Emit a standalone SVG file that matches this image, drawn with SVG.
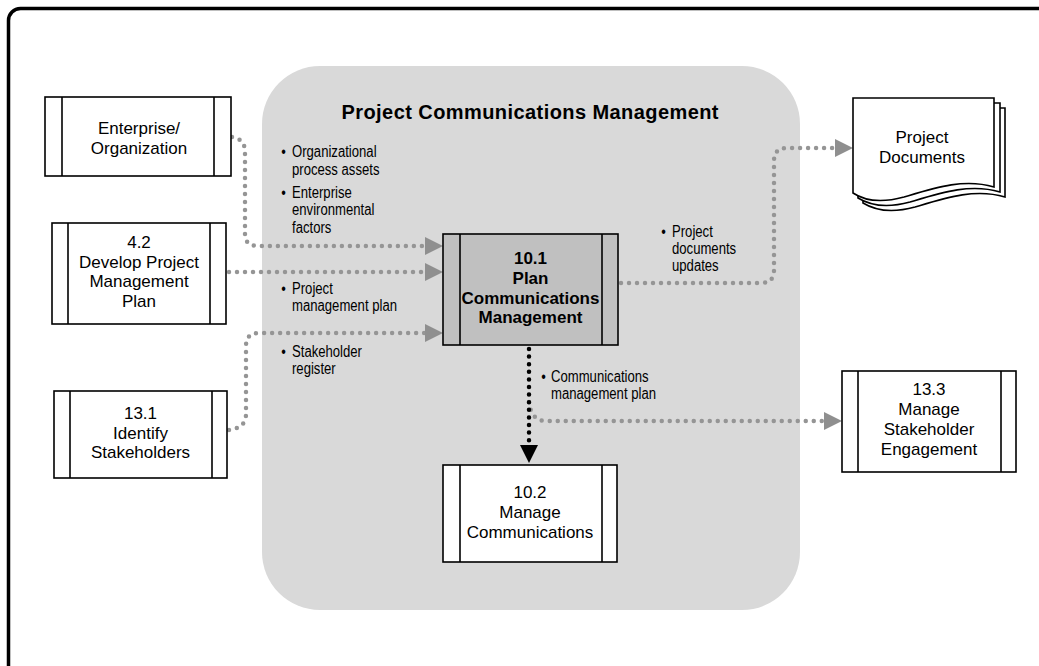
<svg xmlns="http://www.w3.org/2000/svg" width="1039" height="666" viewBox="0 0 1039 666">
<defs>
<style>
.frame{fill:none;stroke:#000;stroke-width:3.5}
.region{fill:#d9d9d9}
.box{fill:#fff;stroke:#000;stroke-width:1.6}
.boxg{fill:#c0c0c0;stroke:#000;stroke-width:1.6}
.bar{stroke:#000;stroke-width:1.6}
.ntxt{font-family:"Liberation Sans",Arial,sans-serif;font-size:17px;fill:#000;text-anchor:middle}
.btxt{font-family:"Liberation Sans",Arial,sans-serif;font-size:17px;font-weight:bold;fill:#000;text-anchor:middle}
.title{font-family:"Liberation Sans",Arial,sans-serif;font-size:20px;font-weight:bold;fill:#000;text-anchor:middle}
.lbl{font-family:"Liberation Sans",Arial,sans-serif;font-size:16px;fill:#000}
.dots{fill:none;stroke:#959595;stroke-width:4.5;stroke-linecap:round;stroke-dasharray:0 8}
.bdots{fill:none;stroke:#000;stroke-width:4.5;stroke-linecap:round;stroke-dasharray:0 7.6}
</style>
<marker id="ag" viewBox="0 0 18 18" refX="0" refY="9" markerWidth="18" markerHeight="18" markerUnits="userSpaceOnUse" orient="auto">
<path d="M0,0 L18,9 L0,18 Z" fill="#8f8f8f"/>
</marker>
<marker id="ab" viewBox="0 0 18 18" refX="0" refY="9" markerWidth="18" markerHeight="18" markerUnits="userSpaceOnUse" orient="auto">
<path d="M0,0 L18,9 L0,18 Z" fill="#000"/>
</marker>
</defs>
<rect width="1039" height="666" fill="#fff"/>
<rect class="frame" x="8.5" y="8.5" width="1080" height="720" rx="12"/>
<g id="region">
<rect class="region" x="262" y="66" width="538" height="544" rx="58"/>
<text class="title" x="530" y="119" textLength="377" lengthAdjust="spacing">Project Communications Management</text>
</g>
<g id="connectors">
<path class="dots" d="M232,137 Q245,139 245,152 L245,234 Q245,246 258,246 L425,246" marker-end="url(#ag)"/>
<path class="dots" d="M229,272 L425,272" marker-end="url(#ag)"/>
<path class="dots" d="M229,430 Q246,428 246,414 L246,346 Q246,333 259,333 L425,333" marker-end="url(#ag)"/>
<path class="dots" d="M621,283 L761,283 Q774,283 774,270 L774,161 Q774,148 787,148 L835,148" marker-end="url(#ag)"/>
<path class="dots" d="M529,402 Q531,420 545,421 L824,421" marker-end="url(#ag)"/>
<path class="bdots" d="M529,349 L529,445" marker-end="url(#ab)"/>
</g>
<g id="labels">
<text class="lbl" transform="translate(292,0) scale(0.82,1)"><tspan x="-13" y="157">•</tspan><tspan x="0" y="157">Organizational</tspan><tspan x="0" y="175">process assets</tspan></text>
<text class="lbl" transform="translate(292,0) scale(0.82,1)"><tspan x="-13" y="198">•</tspan><tspan x="0" y="198">Enterprise</tspan><tspan x="0" y="215.5">environmental</tspan><tspan x="0" y="233">factors</tspan></text>
<text class="lbl" transform="translate(292,0) scale(0.82,1)"><tspan x="-13" y="294">•</tspan><tspan x="0" y="294">Project</tspan><tspan x="0" y="311">management plan</tspan></text>
<text class="lbl" transform="translate(292,0) scale(0.82,1)"><tspan x="-13" y="357">•</tspan><tspan x="0" y="357">Stakeholder</tspan><tspan x="0" y="374">register</tspan></text>
<text class="lbl" transform="translate(672,0) scale(0.82,1)"><tspan x="-13" y="237">•</tspan><tspan x="0" y="237">Project</tspan><tspan x="0" y="254">documents</tspan><tspan x="0" y="271">updates</tspan></text>
<text class="lbl" transform="translate(551,0) scale(0.82,1)"><tspan x="-12" y="382">•</tspan><tspan x="0" y="382">Communications</tspan><tspan x="0" y="399">management plan</tspan></text>
</g>
<g id="enterprise">
<rect class="box" x="45" y="97" width="186" height="79"/>
<line class="bar" x1="62" y1="97" x2="62" y2="176"/>
<line class="bar" x1="214" y1="97" x2="214" y2="176"/>
<text class="ntxt"><tspan x="139" y="134">Enterprise/</tspan><tspan x="139" y="154">Organization</tspan></text>
</g>
<g id="p4_2">
<rect class="box" x="52" y="223" width="174" height="101"/>
<line class="bar" x1="68" y1="223" x2="68" y2="324"/>
<line class="bar" x1="210" y1="223" x2="210" y2="324"/>
<text class="ntxt"><tspan x="139" y="248">4.2</tspan><tspan x="139" y="268">Develop Project</tspan><tspan x="139" y="287">Management</tspan><tspan x="139" y="307">Plan</tspan></text>
</g>
<g id="p13_1">
<rect class="box" x="54" y="391" width="173" height="87"/>
<line class="bar" x1="70" y1="391" x2="70" y2="478"/>
<line class="bar" x1="212" y1="391" x2="212" y2="478"/>
<text class="ntxt"><tspan x="140.5" y="419">13.1</tspan><tspan x="140.5" y="439">Identify</tspan><tspan x="140.5" y="458">Stakeholders</tspan></text>
</g>
<g id="p10_1">
<rect class="boxg" x="443" y="234" width="175" height="111"/>
<line class="bar" x1="460" y1="234" x2="460" y2="345"/>
<line class="bar" x1="602" y1="234" x2="602" y2="345"/>
<text class="btxt"><tspan x="530.5" y="264">10.1</tspan><tspan x="530.5" y="284">Plan</tspan><tspan x="530.5" y="304">Communications</tspan><tspan x="530.5" y="323">Management</tspan></text>
</g>
<g id="p10_2">
<rect class="box" x="443" y="465" width="174" height="97"/>
<line class="bar" x1="460" y1="465" x2="460" y2="562"/>
<line class="bar" x1="602" y1="465" x2="602" y2="562"/>
<text class="ntxt"><tspan x="530" y="498">10.2</tspan><tspan x="530" y="518">Manage</tspan><tspan x="530" y="538">Communications</tspan></text>
</g>
<g id="p13_3">
<rect class="box" x="842" y="371" width="174" height="101"/>
<line class="bar" x1="858" y1="371" x2="858" y2="472"/>
<line class="bar" x1="1001" y1="371" x2="1001" y2="472"/>
<text class="ntxt"><tspan x="929" y="395">13.3</tspan><tspan x="929" y="415">Manage</tspan><tspan x="929" y="435">Stakeholder</tspan><tspan x="929" y="455">Engagement</tspan></text>
</g>
<g id="projectDocuments">
<path class="box" d="M863,108 L1005,108 L1005,197 C975,188 945,198 915,207 C893,213 876,211 863,203 Z"/>
<path class="box" d="M858,103 L1000,103 L1000,192 C970,183 940,193 910,202 C888,208 871,206 858,198 Z"/>
<path class="box" d="M853,98 L994,98 L994,187 C964,178 934,188 904,197 C882,203 865,201 853,193 Z"/>
<text class="ntxt"><tspan x="922" y="143">Project</tspan><tspan x="922" y="163">Documents</tspan></text>
</g>
</svg>
